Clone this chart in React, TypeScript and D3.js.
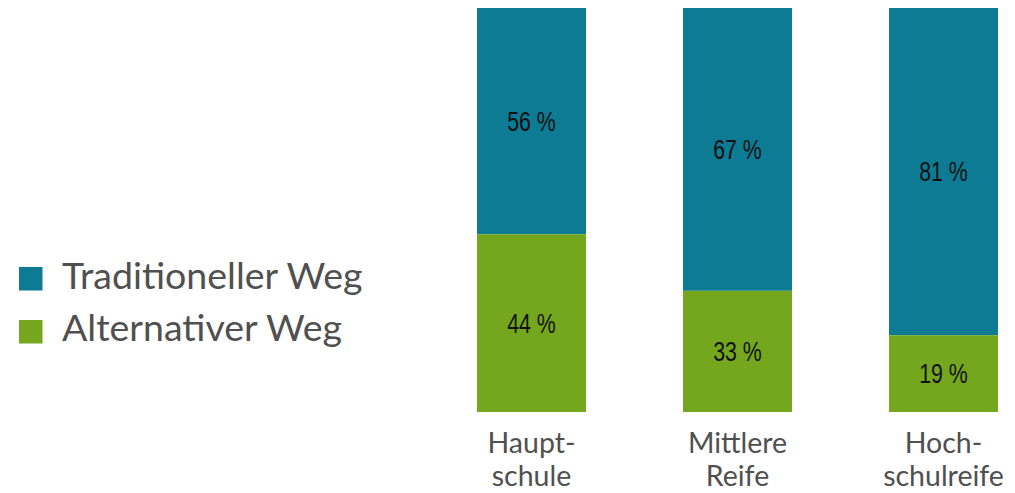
import React from "react";
import * as d3 from "d3";

const categories = ["Hauptschule", "Mittlere Reife", "Hochschulreife"];
const categoryLines = [["Haupt-", "schule"], ["Mittlere", "Reife"], ["Hoch-", "schulreife"]];
const seriesNames = ["Traditioneller Weg", "Alternativer Weg"];
// bar heights as drawn in the picture (percent of the full bar)
const alternativeHeights = [44, 30, 19];
// values printed on the bars
const traditionalLabels = [56, 67, 81];
const alternativeLabels = [44, 33, 19];

const W = 1015;
const H = 493;
const TEAL = "#0d7b94";
const GREEN = "#74a71e";
const colors = [TEAL, GREEN];
const TEXT = "#505050";
const BODY_FONT = "Lato, 'Open Sans', sans-serif";
const LABEL_FONT = "'Liberation Sans', Arial, sans-serif";

export default function App() {
  const x = d3
    .scaleBand<string>()
    .domain(categories)
    .range([428.5, 1046.5])
    .paddingInner(0.4709)
    .paddingOuter(0.2354);
  const y = d3.scaleLinear().domain([0, 100]).range([412, 8]);

  const barLabel = (cx: number, cy: number, txt: string) => (
    <text
      transform={`translate(${cx},${cy}) scale(0.79,1)`}
      textAnchor="middle"
      dominantBaseline="central"
      fontFamily={LABEL_FONT}
      fontSize={27}
      fill="#111"
    >
      {txt}
    </text>
  );

  return (
    <svg
      width={W}
      height={H}
      style={{ position: "absolute", left: 0, top: 0, background: "#fff" }}
    >
      {categories.map((c, i) => {
        const x0 = x(c)!;
        const bw = x.bandwidth();
        const alt = alternativeHeights[i];
        const yTop = y(100);
        const yMid = y(alt);
        const yBot = y(0);
        const cx = x0 + bw / 2;
        return (
          <g key={c}>
            <rect x={x0} y={yTop} width={bw} height={yMid - yTop} fill={TEAL} />
            <rect x={x0} y={yMid} width={bw} height={yBot - yMid} fill={GREEN} />
            {barLabel(cx, (yTop + yMid) / 2, `${traditionalLabels[i]} %`)}
            {barLabel(cx, (yMid + yBot) / 2, `${alternativeLabels[i]} %`)}
            {categoryLines[i].map((line, j) => (
              <text
                key={j}
                x={cx}
                y={453 + j * 33}
                textAnchor="middle"
                fontFamily={BODY_FONT}
                fontSize={28.5}
                fill={TEXT}
              >
                {line}
              </text>
            ))}
          </g>
        );
      })}
      {seriesNames.map((s, i) => (
        <g key={s}>
          <rect x={19} y={267 + i * 53} width={23.5} height={23.5} fill={colors[i]} />
          <text
            x={62}
            y={288.5 + i * 52.5}
            fontFamily={BODY_FONT}
            fontSize={37.5}
            fill={TEXT}
          >
            {s}
          </text>
        </g>
      ))}
    </svg>
  );
}
